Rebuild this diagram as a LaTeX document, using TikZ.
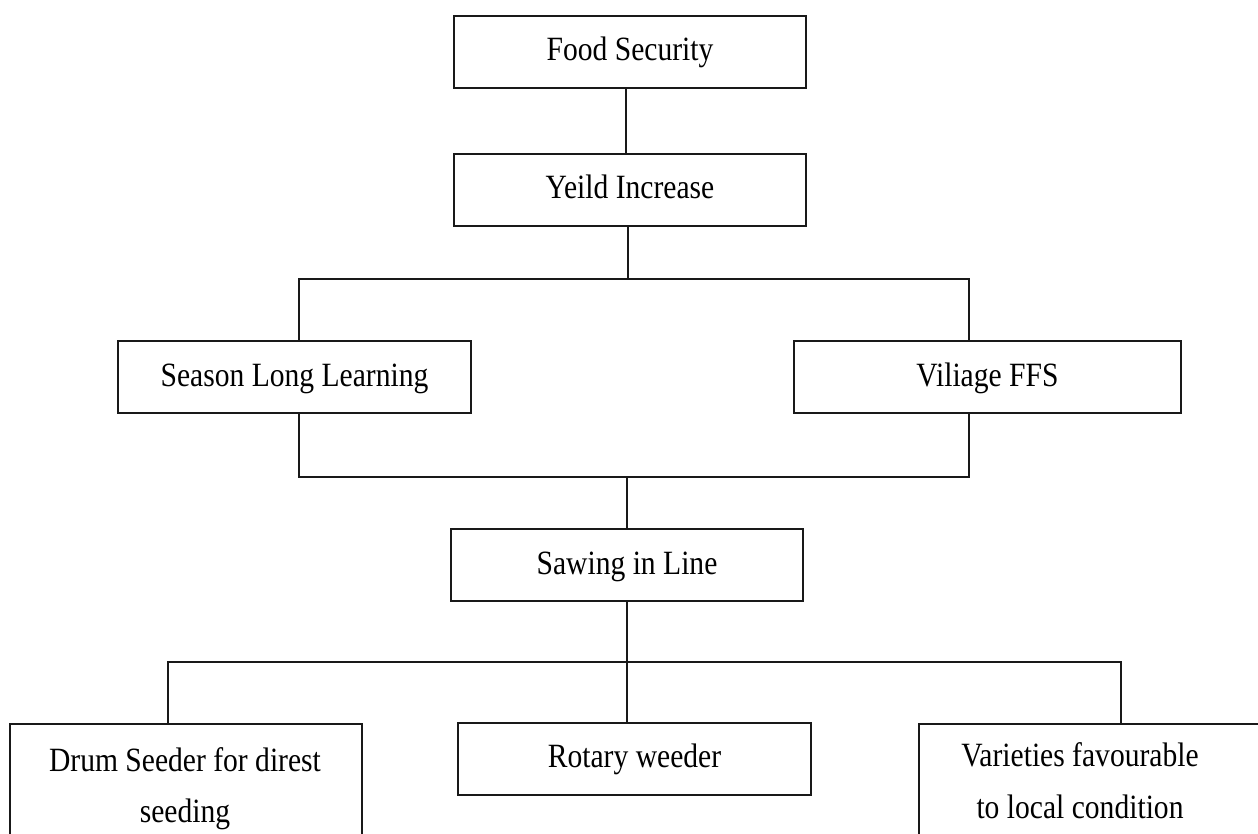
\documentclass[tikz,border=0pt]{standalone}
\usepackage{fontspec}
\setmainfont{Liberation Serif}[FakeStretch=0.87]
\begin{document}
\begin{tikzpicture}[x=1pt,y=-1pt,
  box/.style={draw=black!90, line width=2pt, inner sep=0pt, minimum height=72pt},
  lbl/.style={font=\fontsize{34}{34}\selectfont, text height=27pt, text depth=9pt},
  mtxt/.style={inner sep=0pt, align=center},
  conn/.style={draw=black!90, line width=2pt}]
\useasboundingbox (0,0) rectangle (1258,834);
% boxes
\node[box, lbl, minimum width=352pt] (fs) at (630,52) {Food Security};
\node[box, lbl, minimum width=352pt] (yi) at (630,190) {Yeild Increase};
\node[box, lbl, minimum width=353pt] (sll) at (294.5,377) {Season Long Learning};
\node[box, lbl, minimum width=387pt] (vf) at (987.5,377) {Viliage FFS};
\node[box, lbl, minimum width=352pt] (sil) at (627,565) {Sawing in Line};
\node[box, lbl, minimum width=353pt] (rw) at (634.5,758.5) {Rotary weeder};
\node[box, minimum width=352pt, minimum height=160pt, anchor=north west] (ds) at (9,723) {};
\node[box, minimum width=352pt, minimum height=160pt, anchor=north west] (vr) at (918,723) {};
\node[mtxt, anchor=north, font=\fontsize{34}{51}\selectfont] (dst) at (185,747) {Drum Seeder for direst\\seeding};
\node[mtxt, anchor=north, font=\fontsize{34}{52}\selectfont] (vrt) at (1080,742) {Varieties favourable\\to local condition};
% junction coordinates
\coordinate (l1) at (299,279);
\coordinate (r1) at (969,279);
\coordinate (l2) at (299,477);
\coordinate (r2) at (969,477);
\coordinate (l3) at (168,662);
\coordinate (r3) at (1121,662);
% connectors
\draw[conn] ([xshift=-4pt]fs.south) -- ([xshift=-4pt]yi.north);
\draw[conn] ([xshift=-2pt]yi.south) -- ([xshift=-2pt]yi.south |- l1);
\draw[conn] (l1 |- sll.north) -- (l1) -- (r1) -- (r1 |- vf.north);
\draw[conn] (l2 |- sll.south) -- (l2) -- (r2) -- (r2 |- vf.south);
\draw[conn] (sil.north |- l2) -- (sil.north);
\draw[conn] (sil.south) -- (sil.south |- rw.north);
\draw[conn] (l3 |- ds.north) -- (l3) -- (r3) -- (r3 |- vr.north);
\end{tikzpicture}
\end{document}
